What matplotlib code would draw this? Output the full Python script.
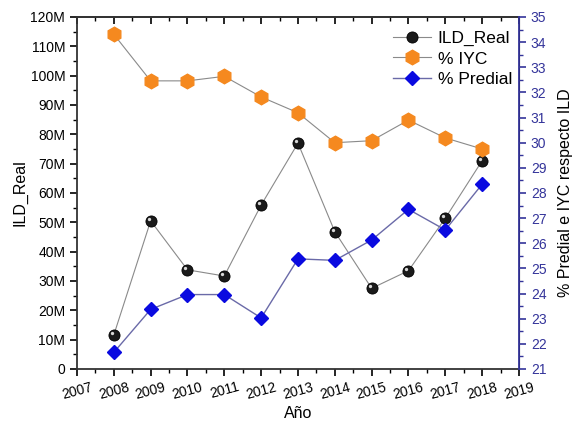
import matplotlib.pyplot as plt
from matplotlib.ticker import MultipleLocator, FuncFormatter
from matplotlib.transforms import ScaledTranslation

plt.rcParams['font.family'] = ['Liberation Sans', 'DejaVu Sans']

# ---- data -----------------------------------------------------------------
years = [2008, 2009, 2010, 2011, 2012, 2013, 2014, 2015, 2016, 2017, 2018]
ild_real = [11.6e6, 50.5e6, 33.8e6, 31.7e6, 55.9e6, 77.0e6,
            46.8e6, 27.5e6, 33.5e6, 51.4e6, 71.0e6]
pct_iyc = [34.31, 32.46, 32.46, 32.64, 31.82, 31.19,
           30.00, 30.08, 30.90, 30.19, 29.75]
pct_predial = [21.66, 23.37, 23.96, 23.96, 23.03, 25.38,
               25.32, 26.13, 27.35, 26.53, 28.35]

RIGHT_COLOR = '#34349a'
LINE_GRAY = '#8a8a8a'

fig = plt.figure(figsize=(5.72, 4.25), dpi=100)
ax = fig.add_axes([0.1346, 0.1318, 0.7727, 0.8282])
ax2 = ax.twinx()

l1, = ax.plot(years, ild_real, color=LINE_GRAY, linewidth=0.8,
              marker='o', markersize=8, markerfacecolor='#1a1a1a',
              markeredgecolor='#000000', markeredgewidth=0.6,
              label='ILD_Real', zorder=3)
# small highlight to mimic the shaded spheres
ax.plot(years, ild_real, linestyle='None', marker='o', markersize=2.4,
        markerfacecolor='#d8d8d8', markeredgecolor='none',
        transform=ax.transData + ScaledTranslation(
            -1.5 / 72, 1.5 / 72, fig.dpi_scale_trans), zorder=4)

l2, = ax2.plot(years, pct_iyc, color=LINE_GRAY, linewidth=0.8,
               marker='h', markersize=10.5, markerfacecolor='#f5891f',
               markeredgecolor='#f5891f', label='% IYC', zorder=3)
l3, = ax2.plot(years, pct_predial, color='#6a6aa8', linewidth=1.0,
               marker='D', markersize=7.5, markerfacecolor='#0a0ae0',
               markeredgecolor='#0a0ae0', label='% Predial', zorder=3)

# ---- axes -----------------------------------------------------------------
ax.set_xlim(2007, 2019)
ax.set_ylim(0, 120e6)
ax2.set_ylim(21, 35)

ax.xaxis.set_major_locator(MultipleLocator(1))
ax.xaxis.set_minor_locator(MultipleLocator(0.5))
ax.yaxis.set_major_locator(MultipleLocator(10e6))
ax.yaxis.set_minor_locator(MultipleLocator(5e6))
ax.yaxis.set_major_formatter(FuncFormatter(
    lambda v, p: '0' if v == 0 else f'{v / 1e6:.0f}M'))
ax2.yaxis.set_major_locator(MultipleLocator(1))
ax2.yaxis.set_minor_locator(MultipleLocator(0.5))

ax.tick_params(axis='x', which='both', direction='out', labelsize=10, pad=3)
ax.tick_params(axis='x', which='major', length=5, width=1.2)
ax.tick_params(axis='x', which='minor', length=3, width=1)
ax.tick_params(axis='y', which='major', direction='out', length=5,
               width=1.2, labelsize=10)
ax.tick_params(axis='y', which='minor', direction='out', length=3, width=1)
for lab in ax.get_xticklabels():
    lab.set_rotation(15)

# top axis: ticks pointing into the plot, no labels
top = ax.secondary_xaxis('top')
top.xaxis.set_major_locator(MultipleLocator(1))
top.xaxis.set_minor_locator(MultipleLocator(0.5))
top.tick_params(which='major', direction='in', length=5, width=1.2,
                labeltop=False)
top.tick_params(which='minor', direction='in', length=3, width=1)
top.spines['top'].set_linewidth(1.3)
top.spines['top'].set_color('#333333')

ax2.tick_params(axis='y', which='major', direction='out', length=5,
                width=1.2, colors=RIGHT_COLOR, labelsize=10)
ax2.tick_params(axis='y', which='minor', direction='out', length=3,
                width=1, colors=RIGHT_COLOR)
ax2.spines['right'].set_color(RIGHT_COLOR)
for s in ['left', 'bottom', 'top']:
    ax.spines[s].set_linewidth(1.3)
    ax.spines[s].set_color('#333333')
ax2.spines['right'].set_linewidth(1.3)
ax2.spines['left'].set_visible(False)
ax2.spines['top'].set_visible(False)
ax2.spines['bottom'].set_visible(False)

ax.set_xlabel('Año', fontsize=11.5, labelpad=3)
ax.set_ylabel('ILD_Real', fontsize=11.5, labelpad=2)
ax2.set_ylabel('% Predial e IYC respecto ILD', fontsize=11.5, labelpad=8)

ax2.legend(handles=[l1, l2, l3], loc='upper right', frameon=False,
           bbox_to_anchor=(1.016, 1.0),
           fontsize=12.5, handlelength=2.2, handletextpad=0.4,
           labelspacing=0.3, borderaxespad=0.4)

fig.savefig('out.png', dpi=100)
